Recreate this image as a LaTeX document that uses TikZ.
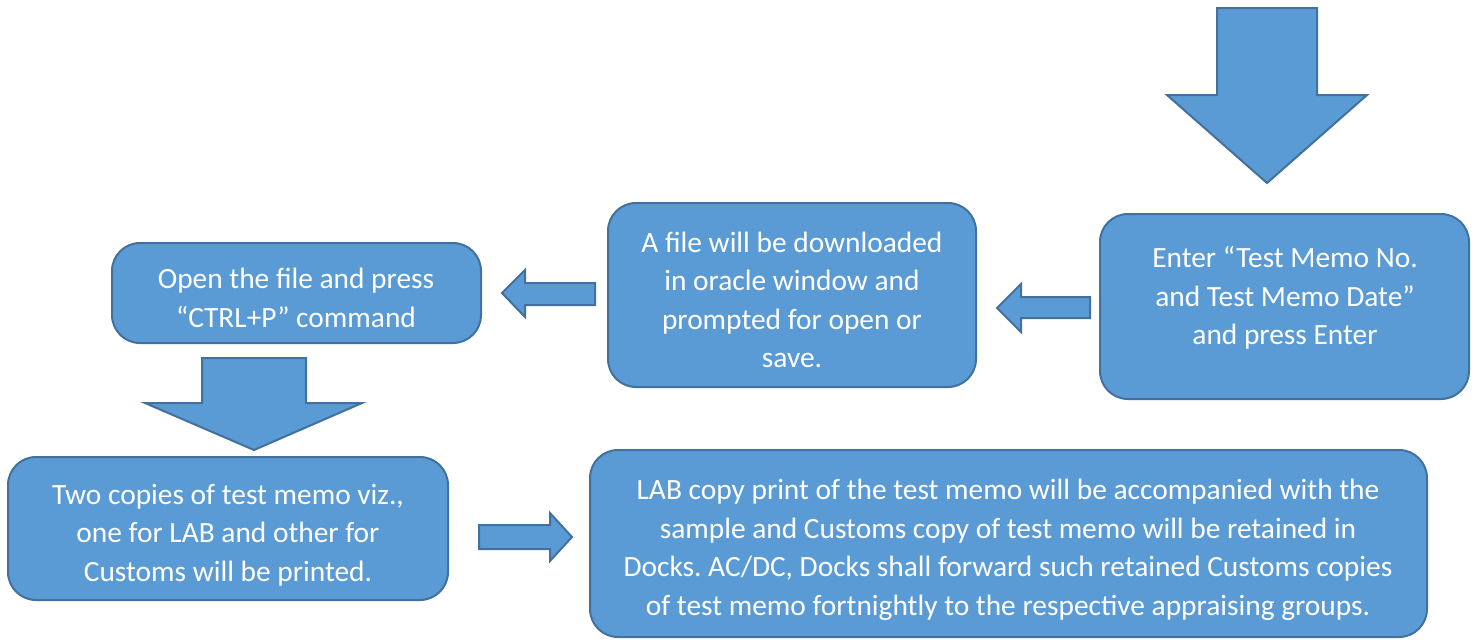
\documentclass[tikz,border=0pt]{standalone}
\usepackage{fontspec}
\setmainfont{Carlito}
\definecolor{boxfill}{HTML}{5B9BD5}
\definecolor{boxline}{HTML}{41719C}
\begin{document}
\begin{tikzpicture}[x=1pt,y=-1pt,
  flowbox/.style={draw=boxline,fill=boxfill,line width=2pt,rounded corners=28pt},
  flowtext/.style={text=white,align=center,font=\fontsize{29.4}{38.5}\selectfont\frenchspacing,inner sep=0pt},
  blockarrow/.style={draw=boxline,fill=boxfill,line width=2pt,line join=miter}]
\useasboundingbox (0,0) rectangle (1476,641);
% boxes
\draw[flowbox] (1100,214) rectangle (1469,399);
\node[flowtext] (b1) at (1285,298) {Enter “Test Memo No.\\and Test Memo Date”\\and press Enter};
\draw[flowbox] (608,203) rectangle (976,387);
\node[flowtext] (b2) at (792,300) {A file will be downloaded\\in oracle window and\\prompted for open or\\save.};
\draw[flowbox] (112,243) rectangle (481,343);
\node[flowtext] (b3) at (296,298) {Open the file and press\\“CTRL+P” command};
\draw[flowbox] (8,457) rectangle (448,600);
\node[flowtext] (b4) at (228,535) {Two copies of test memo viz.,\\one for LAB and other for\\Customs will be printed.};
\draw[flowbox] (590,450) rectangle (1427,637);
\node[flowtext] (b5) at (1008,550) {LAB copy print of the test memo will be accompanied with the\\sample and Customs copy of test memo will be retained in\\Docks. AC/DC, Docks shall forward such retained Customs copies\\of test memo fortnightly to the respective appraising groups.};
% block arrows
\draw[blockarrow] (1217,8) -- (1317,8) -- (1317,95) -- (1367,95) -- (1267,183) -- (1167,95) -- (1217,95) -- cycle;
\draw[blockarrow] (1090,297) -- (1021,297) -- (1021,284) -- (997,308) -- (1021,332) -- (1021,318) -- (1090,318) -- cycle;
\draw[blockarrow] (595,283) -- (525,283) -- (525,270) -- (502,293) -- (525,317) -- (525,305) -- (595,305) -- cycle;
\draw[blockarrow] (202,358) -- (306,358) -- (306,403) -- (362,403) -- (254,450) -- (145,403) -- (202,403) -- cycle;
\draw[blockarrow] (479,525) -- (550,525) -- (550,513) -- (572,537) -- (550,561) -- (550,549) -- (479,549) -- cycle;
\end{tikzpicture}
\end{document}
